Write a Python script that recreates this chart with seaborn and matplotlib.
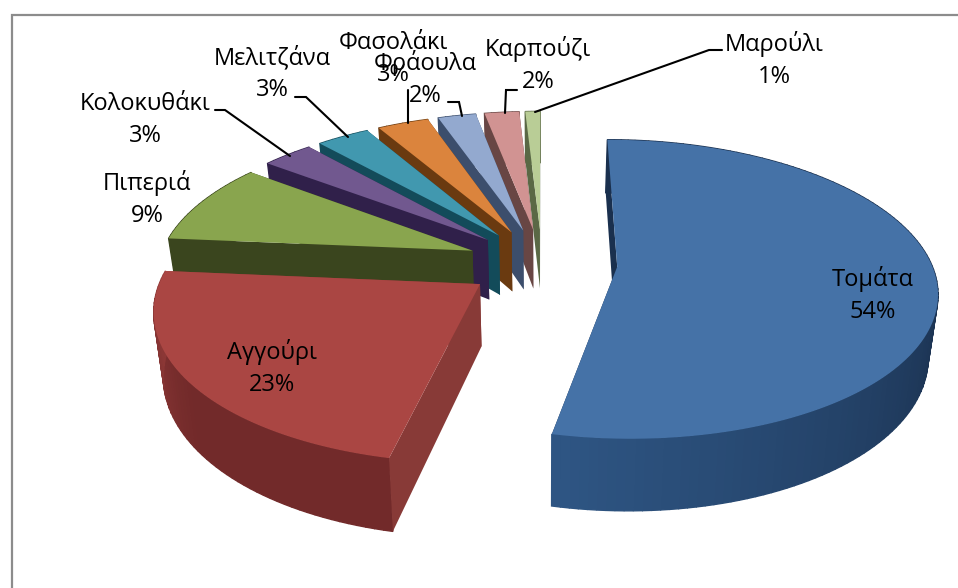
import matplotlib
matplotlib.use('Agg')
import matplotlib.pyplot as plt
import numpy as np
import seaborn as sns

crops = ['Τομάτα', 'Αγγούρι', 'Πιπεριά', 'Κολοκυθάκι', 'Μελιτζάνα', 'Φασολάκι', 'Φράουλα', 'Καρπούζι', 'Μαρούλι']
pct_labels = ['54%', '23%', '9%', '3%', '3%', '3%', '2%', '2%', '1%']
# slice sizes as measured on the drawing, the labels round them differently
shares = [53.4, 23.0, 8.9, 3.1, 3.2, 3.1, 2.3, 2.1, 0.9]

top_colors = ['#4572A7', '#AA4643', '#89A54E', '#71588F', '#4198AF', '#DB843D', '#93A9CF', '#D19392', '#B9CD96']
side_light = ['#2E5583', '#933B39', '#3F4C20', '#3A2A55', '#1A5868', '#77420F', '#45597A', '#75514F', '#66744F']
side_dark = ['#1A304E', '#722A2A', '#3A451E', '#30204A', '#134B5A', '#6A3A10', '#3C4E6C', '#684644', '#5A6845']
wall_colors = ['#1A304E', '#883A37', '#3A451E', '#30204A', '#134B5A', '#6A3A10', '#3C4E6C', '#684644', '#5A6845']

label_xy = [(873, 295), (272, 368), (147, 199), (145, 120), (272, 74), (393, 59), (425, 79), (538, 65), (774, 60)]
leaders = {
    3: [(215, 110), (225, 110), (290, 156)],
    4: [(295, 97), (306, 97), (348, 137)],
    5: [(408, 90), (408, 123)],
    6: [(448, 102), (459, 102), (462, 116)],
    7: [(517, 90), (506, 90), (505, 113)],
    8: [(722, 50), (709, 50), (535, 112)],
}

# camera of the 3d pie, in pixels
cx, cy = 542, 263
ax_x, ax_y, persp = 314, 145, 0.15
explode = 0.24
depth = 61
bottom_scale = 0.975


def project(X, Y, lower=False):
    w = 1 + persp * Y
    sx = ax_x * X / w
    sy = cy - ax_y * Y / w
    if lower:
        return cx + sx * bottom_scale, sy + depth / w
    return cx + sx, sy


def draw_slice(ax, start, end, top, light, dark, wall):
    mid = (start + end) / 2
    ox, oy = explode * np.sin(mid), explode * np.cos(mid)
    t = np.linspace(start, end, max(int((end - start) * 40), 6))
    X = ox + np.sin(t)
    Y = oy + np.cos(t)

    # far radial wall first, it ends up behind everything else
    ex, ey = ox + np.sin(end), oy + np.cos(end)
    pts = [project(ox, oy), project(ex, ey), project(ex, ey, True), project(ox, oy, True)]
    ax.fill(*zip(*pts), color=wall, lw=0)

    # outer wall, shaded segment by segment
    shades = sns.blend_palette([dark, dark, light], len(t) - 1)
    for i in range(len(t) - 1):
        pts = [project(X[i], Y[i]), project(X[i + 1], Y[i + 1]),
               project(X[i + 1], Y[i + 1], True), project(X[i], Y[i], True)]
        ax.fill(*zip(*pts), color=shades[i], lw=1.0, ec=shades[i])

    ex, ey = ox + np.sin(start), oy + np.cos(start)
    pts = [project(ox, oy), project(ex, ey), project(ex, ey, True), project(ox, oy, True)]
    ax.fill(*zip(*pts), color=wall, lw=0)

    xs, ys = project(np.r_[ox, X], np.r_[oy, Y])
    ax.fill(xs, ys, color=top, lw=0)


sns.set_theme(style='white')
plt.rcParams['font.family'] = ['Open Sans', 'DejaVu Sans']

fig = plt.figure(figsize=(9.58, 5.88), dpi=100, facecolor='white')
ax = fig.add_axes([0, 0, 1, 1])
ax.set_xlim(0, 958)
ax.set_ylim(588, 0)
ax.axis('off')

# chart frame, only top and left show in the crop
ax.plot([12, 12, 958], [588, 15, 15], color='#8c8c8c', lw=1.6, solid_joinstyle='miter')

edges = np.r_[0, np.cumsum(shares)] / np.sum(shares) * 2 * np.pi
for i in range(len(crops) - 1, -1, -1):
    draw_slice(ax, edges[i], edges[i + 1], top_colors[i], side_light[i], side_dark[i], wall_colors[i])

for i, pts in leaders.items():
    ax.plot(*zip(*pts), color='black', lw=1.5, solid_joinstyle='miter')

for name, pct, (x, y) in zip(crops, pct_labels, label_xy):
    ax.text(x, y, f'{name}\n{pct}', ha='center', va='center', fontsize=17,
            color='black', linespacing=1.45)

plt.savefig('out.png', dpi=100)
plt.close()
